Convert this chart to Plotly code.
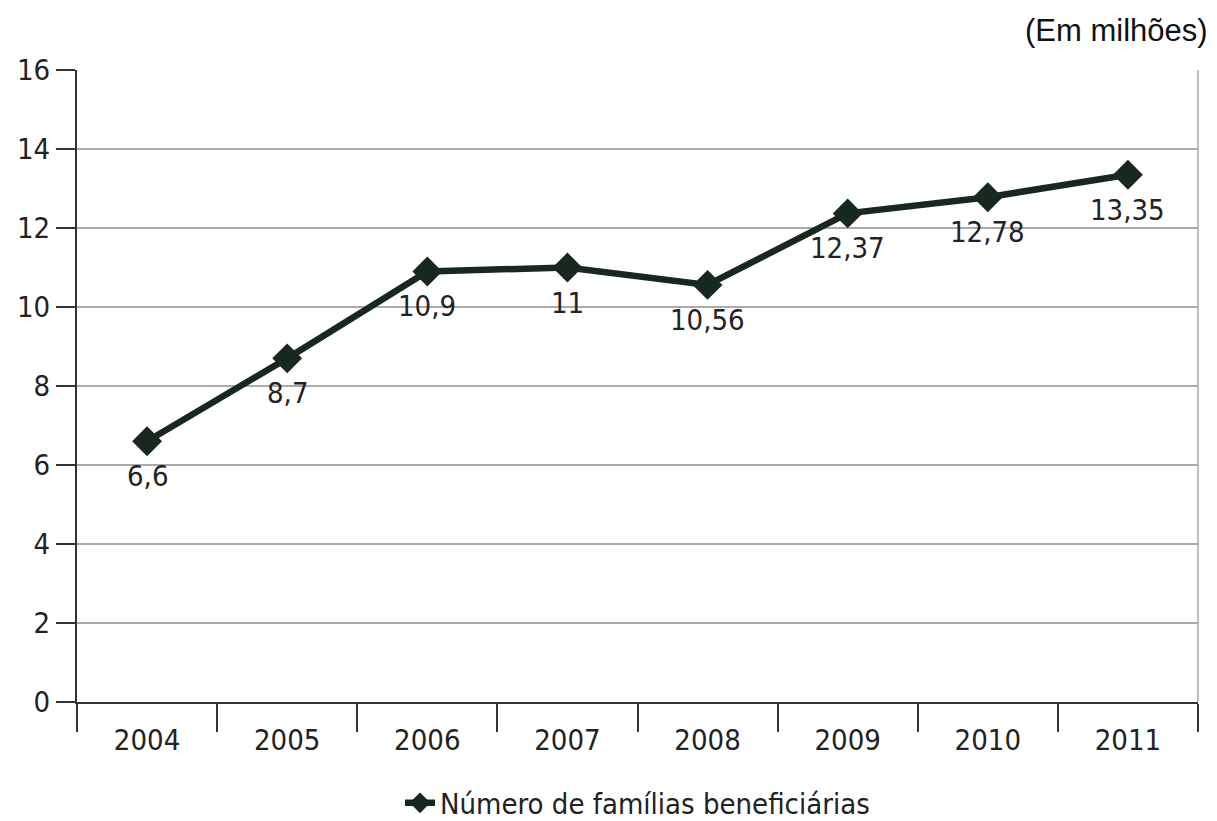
import plotly.graph_objects as go

years = ["2004", "2005", "2006", "2007", "2008", "2009", "2010", "2011"]
values = [6.6, 8.7, 10.9, 11.0, 10.56, 12.37, 12.78, 13.35]
labels = ["6,6", "8,7", "10,9", "11", "10,56", "12,37", "12,78", "13,35"]
y_ticks = [0, 2, 4, 6, 8, 10, 12, 14, 16]
series_name = "Número de famílias beneficiárias"

FONT = "DejaVu Sans Condensed, sans-serif"
LINE = "#17291f"
TXT = "#222222"

fig = go.Figure()
fig.add_trace(go.Scatter(
    x=years, y=values, mode="lines+markers", name=series_name,
    line=dict(color=LINE, width=6.5),
    marker=dict(symbol="diamond", size=23, color=LINE),
))

# category axis: annotation x given as category index
label_annots = [
    dict(x=i, y=yv, text=t, xref="x", yref="y", showarrow=False,
         yanchor="middle", yshift=-35,
         font=dict(family=FONT, size=29, color=TXT))
    for i, (yv, t) in enumerate(zip(values, labels))
]

fig.update_layout(
    width=1217, height=821,
    margin=dict(l=77, r=19, t=70, b=119, autoexpand=False),
    paper_bgcolor="white", plot_bgcolor="white",
    showlegend=True,
    legend=dict(orientation="h", x=0.5, xanchor="center", yref="container",
                y=(821 - 803) / 821, yanchor="middle",
                font=dict(family=FONT, size=29, color=TXT)),
    xaxis=dict(type="category", categoryorder="array", categoryarray=years,
               range=[-0.5, len(years) - 0.5],
               showline=True, linecolor="#333333", linewidth=2,
               ticks="outside", tickson="boundaries", ticklen=28, tickcolor="#333333",
               tickwidth=2, showgrid=False, automargin=False, ticklabelstandoff=11,
               tickfont=dict(family=FONT, size=29, color=TXT)),
    yaxis=dict(range=[0, 16], tickvals=y_ticks, showline=True, linecolor="#333333",
               linewidth=2, ticks="outside", ticklen=19, tickcolor="#333333", tickwidth=2,
               showgrid=True, gridcolor="#aaaaaa", gridwidth=1.5, zeroline=False,
               automargin=False,
               tickfont=dict(family=FONT, size=29, color=TXT)),
    annotations=label_annots + [dict(text="(Em milhões)", xref="paper", yref="paper", x=1.0, y=1.0,
                      xanchor="right", yanchor="bottom", xshift=12, yshift=20, showarrow=False,
                      font=dict(family="Liberation Sans, Arial, sans-serif", size=31, color="#111111"))],
    shapes=[dict(type="line", xref="paper", yref="paper", x0=1, x1=1, y0=0, y1=1,
                 line=dict(color="#aaaaaa", width=1.5))],
)

fig.write_html("out.html")
